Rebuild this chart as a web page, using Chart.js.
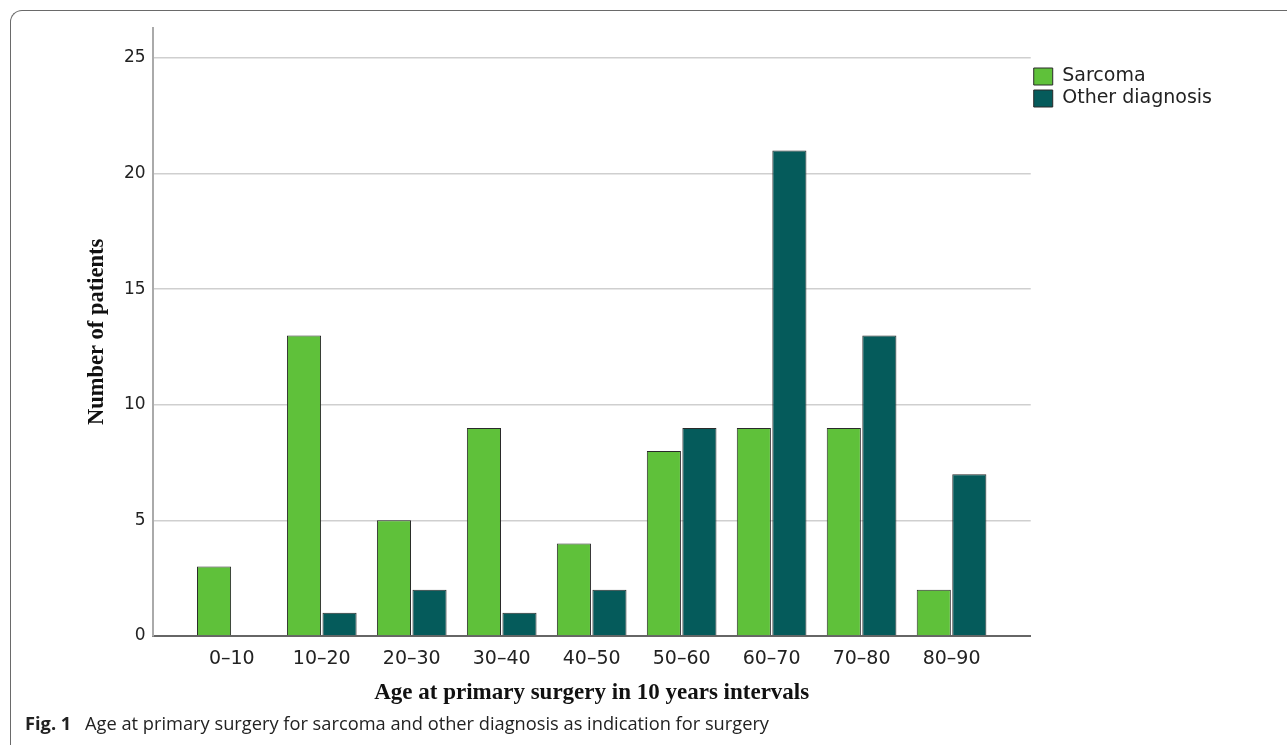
<!DOCTYPE html>
<html>
<head>
<meta charset="utf-8">
<script src="https://cdn.jsdelivr.net/npm/chart.js@4.4.0/dist/chart.umd.min.js"></script>
<style>
  html, body { margin: 0; padding: 0; background: #fff; }
  .frame {
    position: absolute; left: 10px; top: 10px; width: 1300px; height: 760px;
    border-top: 1.5px solid #6a6a6a; border-left: 1.5px solid #6a6a6a;
    border-top-left-radius: 12px;
  }
  .canvas { position: absolute; left: 0; top: 0; width: 1287px; height: 716px; }
  .caption {
    position: absolute; left: 25px; top: 710px;
    font-family: "Open Sans", "Noto Sans", sans-serif; font-size: 18.25px; color: #222;
  }
  .caption b { font-weight: 700; margin-right: 9px; }
</style>
</head>
<body>
<div class="frame"></div>
<div class="canvas"><canvas id="myChart"></canvas></div>
<div class="caption"><b>Fig. 1</b> Age at primary surgery for sarcoma and other diagnosis as indication for surgery</div>
<script>
const ageGroups = ['0–10', '10–20', '20–30', '30–40', '40–50', '50–60', '60–70', '70–80', '80–90'];
const sarcoma = [3, 13, 5, 9, 4, 8, 9, 9, 2];
const otherDiagnosis = [0, 1, 2, 1, 2, 9, 21, 13, 7];
const yTicks = [0, 5, 10, 15, 20, 25];

window.onload = function () {
	const ctx = document.getElementById('myChart').getContext('2d');
	const toPoints = (arr) => arr.map((v, i) => ({ x: i, y: v }));

	const myChart = new Chart(ctx, {
		type: 'bar',
		data: {
			datasets: [{
				label: 'Sarcoma',
				data: toPoints(sarcoma),
				backgroundColor: '#5fc13a',
				borderColor: '#2a2a2a',
				borderWidth: 1
			}, {
				label: 'Other diagnosis',
				data: toPoints(otherDiagnosis),
				backgroundColor: '#055b5b',
				borderColor: '#2a2a2a',
				borderWidth: 1
			}]
		},
		options: {
			responsive: true,
			maintainAspectRatio: false,
			animation: false,
			categoryPercentage: 0.79,
			barPercentage: 0.96,
			layout: { padding: { top: 28, left: 80, right: 65, bottom: 0 } },
			scales: {
				x: {
					type: 'linear',
					min: -0.88,
					max: 8.88,
					offset: false,
					afterBuildTicks: (axis) => {
						axis.ticks = ageGroups.map((_, i) => ({ value: i }));
					},
					ticks: {
						callback: (v) => ageGroups[v],
						color: '#222',
						font: { family: '"DejaVu Sans", sans-serif', size: 19, lineHeight: 0.74 },
						padding: 16,
						maxRotation: 0,
						autoSkip: false
					},
					grid: { display: false, drawTicks: false },
					border: { color: '#666', width: 2 },
					title: {
						display: true,
						text: 'Age at primary surgery in 10 years intervals',
						color: '#111',
						font: { family: '"Liberation Serif", serif', size: 23, weight: 'bold', lineHeight: 1.0 },
						padding: { top: 0, bottom: 11 }
					}
				},
				y: {
					min: 0,
					max: 26.3,
					afterBuildTicks: (axis) => {
						axis.ticks = yTicks.map((v) => ({ value: v }));
					},
					ticks: {
						color: '#222',
						font: { family: '"DejaVu Sans", sans-serif', size: 17 },
						padding: 7
					},
					grid: { color: '#cfcfcf', lineWidth: 1.5, drawTicks: false },
					border: { color: '#aaaaaa', width: 2 },
					title: {
						display: true,
						text: 'Number of patients',
						color: '#111',
						font: { family: '"Liberation Serif", serif', size: 22.5, weight: 'bold' },
						padding: { top: 3.5, bottom: 6.5 }
					}
				}
			},
			plugins: {
				legend: {
					display: true,
					position: 'right',
					align: 'start',
					fullSize: false,
					title: { display: true, text: ' ', padding: 9.6, font: { size: 14 } },
					labels: {
						color: '#222',
						boxWidth: 19,
						boxHeight: 17,
						padding: 3,
						font: { family: '"DejaVu Sans", sans-serif', size: 19 }
					}
				},
				tooltip: { enabled: false }
			}
		}
	});
};
</script>
</body>
</html>
